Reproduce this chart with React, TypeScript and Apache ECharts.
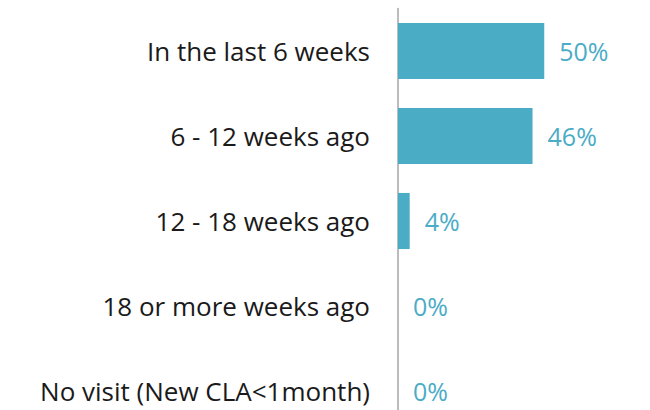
import React, { useEffect, useRef } from "react";
import * as echarts from "echarts";

const categories = [
  "In the last 6 weeks",
  "6 - 12 weeks ago",
  "12 - 18 weeks ago",
  "18 or more weeks ago",
  "No visit (New CLA<1month)",
];
const values = [50, 46, 4, 0, 0];

export default function App() {
  const ref = useRef<HTMLDivElement>(null);
  useEffect(() => {
    const chart = echarts.init(ref.current!, null, { renderer: "svg" });
    chart.setOption({
      animation: false,
      grid: { left: 398, top: 8.5, width: 234, height: 425, containLabel: false },
      xAxis: {
        type: "value",
        min: 0,
        max: 80,
        show: false,
      },
      yAxis: {
        type: "category",
        inverse: true,
        data: categories,
        axisLine: { show: true, lineStyle: { color: "#a6a6a6", width: 1.5 } },
        axisTick: { show: false },
        axisLabel: {
          margin: 28,
          color: "#1a1a1a",
          fontSize: 26,
          fontFamily: "Open Sans",
        },
      },
      series: [
        {
          type: "bar",
          data: values,
          barCategoryGap: "34%",
          itemStyle: { color: "#4bacc6" },
          label: {
            show: true,
            position: "right",
            distance: 15,
            formatter: "{c}%",
            color: "#4bacc6",
            fontSize: 25,
            fontFamily: "Open Sans",
          },
        },
      ],
    });
    return () => chart.dispose();
  }, []);
  return (
    <div style={{ position: "absolute", left: 0, top: 0, width: 650, height: 410, overflow: "hidden", background: "#fff" }}>
      <div ref={ref} style={{ width: 650, height: 440 }} />
    </div>
  );
}
